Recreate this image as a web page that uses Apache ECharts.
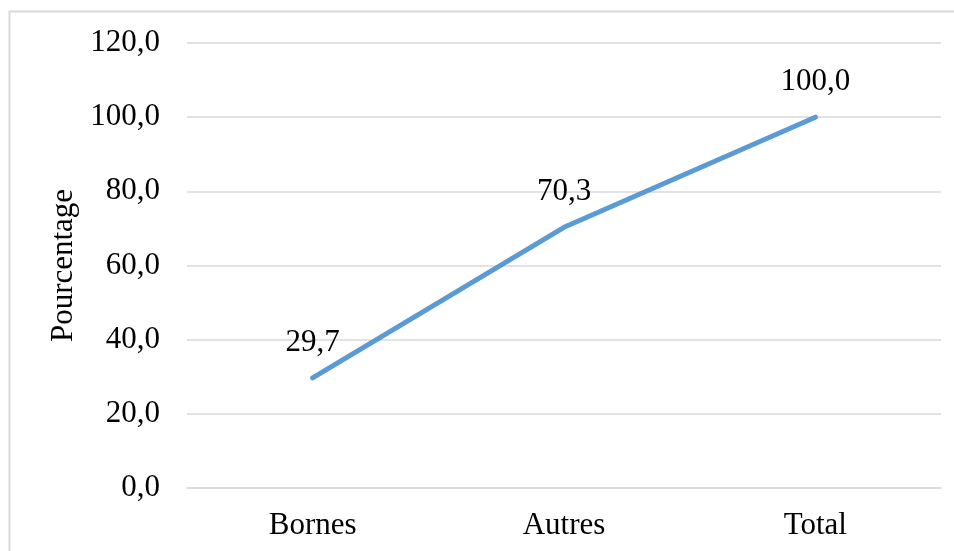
<!DOCTYPE html>
<html>
<head>
<meta charset="utf-8">
<script src="https://cdn.jsdelivr.net/npm/echarts@6/dist/echarts.min.js"></script>
<style>
  html, body { margin: 0; padding: 0; background: #fff; }
  #chart { width: 954px; height: 551px; }
</style>
</head>
<body>
<div id="chart"></div>
<script>
// Share of each group, in percent
const categories = ['Bornes', 'Autres', 'Total'];
const pourcentage = [29.7, 70.3, 100.0];
const yTicks = { min: 0, max: 120, interval: 20 };

const fmt = v => Number(v).toFixed(1).replace('.', ',');
const font = 'Liberation Serif, Times New Roman, serif';
const fs = 31;

const chart = echarts.init(document.getElementById('chart'));
chart.setOption({
  backgroundColor: '#ffffff',
  animation: false,
  graphic: [{
    type: 'rect',
    shape: { x: 9.5, y: 11.5, width: 1000, height: 1000 },
    style: { fill: 'none', stroke: '#d9d9d9', lineWidth: 2 },
    silent: true
  }],
  grid: { left: 187, right: 13, top: 43, bottom: 63 },
  xAxis: {
    type: 'category',
    data: categories,
    boundaryGap: true,
    axisLine: { show: true, lineStyle: { color: '#d9d9d9', width: 1.5 } },
    axisTick: { show: false },
    axisLabel: { color: '#000', fontFamily: font, fontSize: fs, margin: 22 }
  },
  yAxis: {
    type: 'value',
    min: yTicks.min,
    max: yTicks.max,
    interval: yTicks.interval,
    name: 'Pourcentage',
    nameLocation: 'middle',
    nameGap: 107,
    nameRotate: 90,
    nameTextStyle: { color: '#000', fontFamily: font, fontSize: fs },
    axisLine: { show: false },
    axisTick: { show: false },
    axisLabel: { color: '#000', fontFamily: font, fontSize: fs, margin: 27, formatter: fmt },
    splitLine: { lineStyle: { color: '#d9d9d9', width: 1.5 } }
  },
  series: [{
    type: 'line',
    data: pourcentage,
    symbol: 'circle',
    symbolSize: 1,
    itemStyle: { color: '#5b9bd5' },
    lineStyle: { color: '#5b9bd5', width: 5, cap: 'round', join: 'round' },
    label: {
      show: true,
      position: 'top',
      distance: 19,
      color: '#000',
      fontFamily: font,
      fontSize: fs,
      formatter: p => fmt(p.value)
    }
  }]
});
</script>
</body>
</html>
